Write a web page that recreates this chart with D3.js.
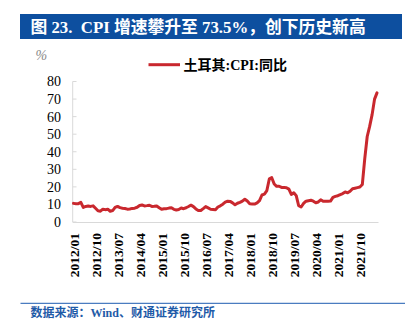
<!DOCTYPE html>
<html><head><meta charset="utf-8">
<script src="https://cdn.jsdelivr.net/npm/d3@7"></script>
<style>
html,body{margin:0;padding:0;background:#fff;}
svg{display:block;}
</style></head>
<body>
<script>
// Data: Turkey CPI YoY (%), monthly 2012/01 - 2022/05
const startYear = 2012, startMonth = 1;
const cpiValues = [
 10.61,10.43,10.43,11.14,8.28,8.87,9.07,8.88,9.19,7.80,6.37,6.16,
 7.31,7.03,7.29,6.13,6.51,8.30,8.88,8.17,7.88,7.71,7.32,7.40,
 7.75,7.89,8.39,9.38,9.66,9.16,9.32,9.54,8.86,8.96,9.15,8.17,
 7.24,7.55,7.61,7.91,8.09,7.20,6.81,7.14,7.95,7.58,8.10,8.81,
 9.58,8.78,7.46,6.57,6.58,7.64,8.79,8.05,7.28,7.16,7.00,8.53,
 9.22,10.13,11.29,11.87,11.72,10.90,9.79,10.68,11.20,11.90,12.98,11.92,
 10.35,10.26,10.23,10.85,12.15,15.39,15.85,17.90,24.52,25.24,21.62,20.30,
 20.35,19.67,19.71,19.50,18.71,15.72,16.65,15.01,9.26,8.55,10.56,11.84,
 12.15,12.37,11.86,10.94,11.39,12.62,11.76,11.77,11.75,11.89,14.03,14.60,
 14.97,15.61,16.19,17.14,16.59,17.53,18.95,19.25,19.58,19.89,21.31,36.08,
 48.69,54.44,61.14,69.97,73.50
];
const monthLabels = cpiValues.map((v,i)=>{
  const y = startYear + Math.floor((startMonth-1+i)/12);
  const m = (startMonth-1+i)%12+1;
  return y + "/" + String(m).padStart(2,"0");
});
const xTickLabels = ["2012/01","2012/10","2013/07","2014/04","2015/01","2015/10","2016/07","2017/04","2018/01","2018/10","2019/07","2020/04","2021/01","2021/10"];
const yTicks = [0,10,20,30,40,50,60,70,80];
const titleText = "图 23.  CPI 增速攀升至 73.5%，创下历史新高";
const legendText = "土耳其:CPI:同比";
const sourceText = "数据来源：Wind、财通证券研究所";
const unitText = "%";

const W = 420, H = 334;
const svg = d3.select("body").append("svg").attr("width", W).attr("height", H);
const serif = "'Liberation Serif','Times New Roman','Noto Sans CJK SC',serif";
const cjk = "'Liberation Serif','Noto Sans CJK SC',sans-serif";

// Title bar
svg.append("rect").attr("x",20).attr("y",14).attr("width",382).attr("height",25).attr("fill","#0d4f9f");
svg.append("text").attr("x",30.5).attr("y",32.5).attr("fill","#fff")
  .style("white-space","pre")
  .attr("font-family",cjk).attr("font-weight","bold").attr("font-size","16.8px")
  .text(titleText);

// Scales
const x = d3.scaleLinear().domain([0, cpiValues.length-1]).range([73.5, 377]);
const y = d3.scaleLinear().domain([0, 80]).range([222, 81.5]);

// Axes
svg.append("line").attr("x1",72.7).attr("x2",72.7).attr("y1",y(80)).attr("y2",y(0)).attr("stroke","#d9d9d9").attr("stroke-width",1);
svg.append("line").attr("x1",72.7).attr("x2",378.5).attr("y1",y(0)+0.5).attr("y2",y(0)+0.5).attr("stroke","#d9d9d9").attr("stroke-width",1);
svg.selectAll(".yt").data(yTicks).enter().append("line")
  .attr("x1",72.7).attr("x2",76.5).attr("y1",d=>y(d)).attr("y2",d=>y(d))
  .attr("stroke","#d9d9d9").attr("stroke-width",1);
svg.selectAll(".yl").data(yTicks).enter().append("text")
  .attr("x",61).attr("y",d=>y(d)).attr("dy","0.35em").attr("text-anchor","end")
  .attr("font-family",serif).attr("font-size","14px").attr("fill","#000")
  .text(d=>d);

// unit
svg.append("text").attr("x",35.5).attr("y",59.5).attr("fill","#8a8a8a")
  .attr("font-family",serif).attr("font-style","italic").attr("font-size","14px").text(unitText);

// X labels
svg.selectAll(".xl").data(xTickLabels).enter().append("text")
  .attr("transform",d=>`translate(${x(monthLabels.indexOf(d))+0.8},233) rotate(-90)`)
  .attr("text-anchor","end").attr("dy","0.35em")
  .attr("font-family",serif).attr("font-weight","bold").attr("font-size","13.5px").attr("fill","#000")
  .text(d=>d);

// Line
const line = d3.line().x((d,i)=>x(i)).y(d=>y(d));
svg.append("path").datum(cpiValues).attr("d",line).attr("fill","none")
  .attr("stroke","#c9282e").attr("stroke-width",3).attr("stroke-linejoin","round").attr("stroke-linecap","round");

// Legend
svg.append("line").attr("x1",148.5).attr("x2",180).attr("y1",64.7).attr("y2",64.7).attr("stroke","#c9282e").attr("stroke-width",3);
svg.append("text").attr("x",183.5).attr("y",64.7).attr("dy","0.36em")
  .attr("font-family",cjk).attr("font-weight","bold").attr("font-size","14px").attr("fill","#000")
  .text(legendText);

// Footer
svg.append("line").attr("x1",20.5).attr("x2",405).attr("y1",303.3).attr("y2",303.3).attr("stroke","#4a7cc0").attr("stroke-width",1.2);
svg.append("text").attr("x",30.5).attr("y",316.5).attr("fill","#1f5ba8")
  .attr("font-family",cjk).attr("font-weight","bold").attr("font-size","12px")
  .text(sourceText);
</script>
</body></html>
